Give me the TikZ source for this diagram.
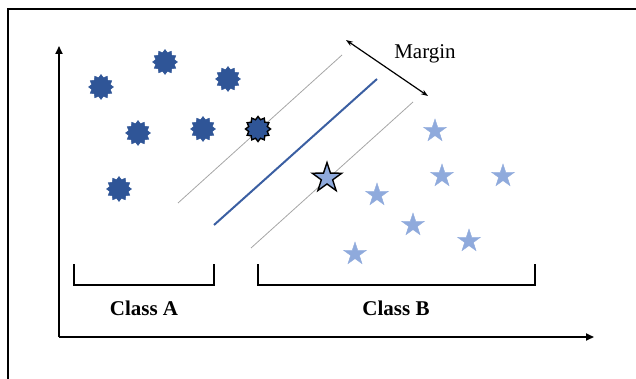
\documentclass[tikz,border=0pt]{standalone}
\usepackage{fontspec}
\setmainfont{Liberation Serif}
\usetikzlibrary{shapes.geometric,arrows.meta}
\definecolor{darkb}{HTML}{2F5597}
\definecolor{lightb}{HTML}{8FAADC}
\definecolor{lineb}{HTML}{3B5FA2}
\definecolor{margray}{HTML}{A6A6A6}
\tikzset{
  burst/.style={star, star points=12, star point ratio=1.3, fill=darkb, draw=darkb, line width=0.4pt, minimum size=25pt, inner sep=0pt},
  burstedge/.style={burst, draw=black, line width=1.4pt},
  lstar/.style={star, star points=5, star point ratio=2.6, fill=lightb, draw=lightb, line width=0.4pt, minimum size=24pt, inner sep=0pt},
  lstaredge/.style={lstar, draw=black, line width=1.4pt, minimum size=31pt},
  axisline/.style={line width=1.8pt, -{Triangle[length=8pt,width=7pt]}},
  marginline/.style={margray, line width=0.8pt},
  bracketline/.style={line width=1.3pt},
  lbl/.style={font=\fontsize{21}{25}\selectfont, inner sep=0pt},
}
\begin{document}
\begin{tikzpicture}[x=1pt,y=-1pt]
\useasboundingbox (0,0) rectangle (636,379);
% frame (top and left edges)
\draw[line width=2pt] (8,379) -- (8,9) -- (636,9);
% axes
\coordinate (origin) at (59,337);
\coordinate (ytip) at (59,46);
\coordinate (xtip) at (594,337);
\draw[axisline] (origin) -- (ytip);
\draw[axisline] (origin) -- (xtip);
% margin lines and hyperplane
\coordinate (u1) at (178,203); \coordinate (u2) at (342,55);
\coordinate (h1) at (214,225); \coordinate (h2) at (377,79);
\coordinate (d1) at (251,248); \coordinate (d2) at (413,102);
\draw[marginline] (u1) -- (u2);
\draw[marginline] (d1) -- (d2);
\draw[lineb, line width=2pt] (h1) -- (h2);
% margin arrow
\coordinate (m1) at (346,40); \coordinate (m2) at (428,96);
\draw[line width=1.2pt, {Stealth[length=7pt,width=5pt]}-{Stealth[length=7pt,width=5pt]}] (m1) -- (m2);
\node[lbl] (margin) at (425,54) {Margin};
% class A starbursts
\node[burst] (a1) at (101,87) {};
\node[burst] (a2) at (165,62) {};
\node[burst] (a3) at (228,79) {};
\node[burst] (a4) at (138,133) {};
\node[burst] (a5) at (203,129) {};
\node[burst] (a6) at (119,189) {};
\node[burstedge] (a7) at (258,129) {};
% class B stars
\node[lstar] (b1) at (435,131) {};
\node[lstar] (b2) at (442,176) {};
\node[lstar] (b3) at (503,176) {};
\node[lstar] (b4) at (377,195) {};
\node[lstar] (b5) at (413,225) {};
\node[lstar] (b6) at (469,241) {};
\node[lstar] (b7) at (355,254) {};
\node[lstaredge] (b8) at (327,178) {};
% brackets
\draw[bracketline] (74,264) -- (74,285) -- (214,285) -- (214,264);
\draw[bracketline] (258,264) -- (258,285) -- (535,285) -- (535,264);
\node[lbl, font=\fontsize{21}{25}\selectfont\bfseries] (ca) at (144,308) {Class A};
\node[lbl, font=\fontsize{21}{25}\selectfont\bfseries] (cb) at (396,308) {Class B};
\end{tikzpicture}
\end{document}
